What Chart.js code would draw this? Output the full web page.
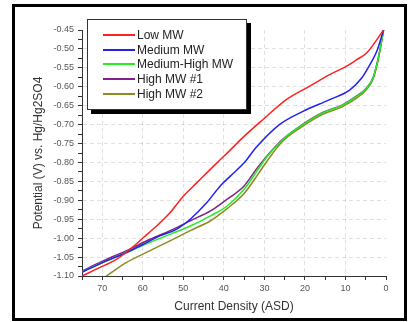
<!DOCTYPE html>
<html>
<head>
<meta charset="utf-8">
<title>Potential vs Current Density</title>
<script src="https://cdn.jsdelivr.net/npm/chart.js@4.4.1/dist/chart.umd.min.js"></script>
<style>
  html, body { margin: 0; padding: 0; background: #fff; }
  #wrap { position: relative; width: 409px; height: 322px; overflow: hidden; }
  #frame {
    position: absolute; left: 12px; top: 4px; width: 389px; height: 311px;
    border: 3px solid #000; pointer-events: none;
  }
  #chart { position: absolute; left: 0; top: 0; }
  #legend {
    position: absolute; left: 87px; top: 19px; width: 158px; height: 89px;
    background: #fff; border: 1px solid #333; box-shadow: 4px 4px 0 #000;
    font: 12px "Liberation Sans", Arial, sans-serif; color: #222;
  }
  #legend .row { position: absolute; left: 15px; height: 14px; line-height: 14px; white-space: nowrap; }
  #legend .swatch { display: inline-block; width: 32px; height: 2px; vertical-align: middle; margin-right: 2px; position: relative; top: -1px; }
</style>
</head>
<body>
<div id="wrap">
  <canvas id="chart" width="409" height="322"></canvas>
  <div id="legend"></div>
  <div id="frame"></div>
</div>
<script>
// Данные: x = плотность тока (ASD), y = потенциал (В)
const seriesNames = ["Low MW", "Medium MW", "Medium-High MW", "High MW #1", "High MW #2"];
const seriesColors = ["#ff2020", "#2222f0", "#22ee22", "#84208c", "#8c8a22"];

const lowMwX = [0.6, 4.8, 7.3, 9.8, 13.9, 18.9, 24.6, 30.4, 35.4, 38.5, 41.7, 46.7, 50, 53.3, 56.6, 59.9, 63.2, 66.5, 71.5, 75];
const lowMwY = [-0.45, -0.511, -0.529, -0.546, -0.568, -0.599, -0.634, -0.687, -0.735, -0.768, -0.801, -0.854, -0.889, -0.933, -0.968, -0.999, -1.03, -1.056, -1.082, -1.1];

const mediumMwX = [0.6, 2.3, 4, 6, 8.9, 13.9, 20.5, 26.3, 32, 35, 38.4, 40.9, 44.2, 48.3, 51.6, 55.8, 59.9, 64, 69.8, 75];
const mediumMwY = [-0.45, -0.507, -0.542, -0.577, -0.608, -0.634, -0.665, -0.7, -0.76, -0.801, -0.836, -0.862, -0.906, -0.95, -0.976, -0.994, -1.016, -1.038, -1.064, -1.09];

const medHighMwX = [0.6, 1.9, 3.2, 4.8, 7.3, 10.6, 15.6, 20.5, 25.5, 29.6, 31.8, 35, 39.2, 43.3, 48.3, 53.3, 58.2, 64, 69.8, 75];
const medHighMwY = [-0.45, -0.525, -0.577, -0.604, -0.626, -0.648, -0.669, -0.7, -0.74, -0.788, -0.822, -0.871, -0.915, -0.941, -0.968, -0.99, -1.011, -1.038, -1.064, -1.089];

const highMw1X = [0.6, 1.9, 3.2, 4.8, 7.3, 10.6, 15.6, 20.5, 25.5, 29.6, 31.8, 35, 39.2, 43.3, 48.3, 52.4, 58.2, 64, 69.8, 75];
const highMw1Y = [-0.45, -0.524, -0.576, -0.603, -0.625, -0.647, -0.668, -0.699, -0.739, -0.786, -0.815, -0.862, -0.897, -0.928, -0.954, -0.976, -1.003, -1.033, -1.06, -1.087];

const highMw2X = [0.6, 1.9, 3.2, 4.8, 7.3, 10.6, 15.6, 20.5, 25.5, 29.2, 31.5, 35, 39.2, 43.3, 48.3, 53.3, 58.2, 64, 69];
const highMw2Y = [-0.45, -0.527, -0.58, -0.607, -0.63, -0.652, -0.673, -0.704, -0.744, -0.794, -0.83, -0.882, -0.922, -0.954, -0.98, -1.007, -1.033, -1.064, -1.1];

// Подписи делений
const xMajorStep = 10;
const yMajorStep = 0.05;

function toPoints(xs, ys) {
  return xs.map((x, i) => ({ x, y: ys[i] }));
}

const seriesData = [
  toPoints(lowMwX, lowMwY),
  toPoints(mediumMwX, mediumMwY),
  toPoints(medHighMwX, medHighMwY),
  toPoints(highMw1X, highMw1Y),
  toPoints(highMw2X, highMw2Y),
];

// Легенда в рамке с тенью, как на исходнике
const legendEl = document.getElementById("legend");
seriesNames.forEach((name, i) => {
  const row = document.createElement("div");
  row.className = "row";
  row.style.top = (8 + i * 14.7) + "px";
  const sw = document.createElement("span");
  sw.className = "swatch";
  sw.style.background = seriesColors[i];
  row.appendChild(sw);
  row.appendChild(document.createTextNode(name));
  legendEl.appendChild(row);
});

const isMajor = (v, step) => Math.abs(Math.round(v / step) * step - v) < 1e-6;

const tickFont = { family: "'Liberation Sans', Arial, sans-serif", size: 9 };
const titleFont = { family: "'Liberation Sans', Arial, sans-serif", size: 12 };

new Chart(document.getElementById("chart"), {
  type: "line",
  data: {
    datasets: seriesData.map((data, i) => ({
      label: seriesNames[i],
      data,
      borderColor: seriesColors[i],
      backgroundColor: seriesColors[i],
      borderWidth: 1.5,
      pointRadius: 0,
      cubicInterpolationMode: "monotone",
      fill: false,
    })),
  },
  options: {
    responsive: false,
    animation: false,
    devicePixelRatio: 1,
    layout: { padding: { left: 14, top: 30, right: 23, bottom: 8 } },
    plugins: {
      legend: { display: false },
      tooltip: { enabled: false },
    },
    scales: {
      x: {
        type: "linear",
        reverse: true,
        min: 0,
        max: 75,
        afterFit(scale) { scale.height = 38; },
        grid: {
          color: (ctx) => {
            const v = ctx.tick ? ctx.tick.value : 0;
            return v > 0 && isMajor(v, xMajorStep) ? "rgba(0,0,0,0.12)" : "rgba(0,0,0,0)";
          },
          tickColor: "#333",
          tickLength: 4,
          drawOnChartArea: true,
        },
        border: { display: true, color: "#333", width: 1, dash: [4, 3] },
        ticks: {
          stepSize: 5,
          autoSkip: false,
          maxRotation: 0,
          padding: 3,
          color: "#555",
          font: tickFont,
          callback: (v) => (isMajor(v, xMajorStep) ? String(v) : ""),
        },
        title: {
          display: true,
          text: "Current Density (ASD)",
          color: "#333",
          font: titleFont,
          padding: { top: 0, bottom: 0 },
        },
      },
      y: {
        type: "linear",
        min: -1.1,
        max: -0.45,
        afterFit(scale) { scale.width = 68; },
        grid: {
          color: (ctx) => {
            const v = ctx.tick ? ctx.tick.value : 0;
            return v < -0.46 && v > -1.09 && isMajor(v, yMajorStep) ? "rgba(0,0,0,0.12)" : "rgba(0,0,0,0)";
          },
          tickColor: "#333",
          tickLength: 4,
        },
        border: { display: true, color: "#333", width: 1, dash: [4, 3] },
        ticks: {
          stepSize: 0.025,
          autoSkip: false,
          padding: 4,
          color: "#555",
          font: tickFont,
          callback: (v) => (isMajor(v, yMajorStep) ? v.toFixed(2) : ""),
        },
        title: {
          display: true,
          text: "Potential (V) vs. Hg/Hg2SO4",
          color: "#333",
          font: titleFont,
          padding: { top: 17, bottom: 0 },
        },
      },
    },
  },
});
</script>
</body>
</html>
